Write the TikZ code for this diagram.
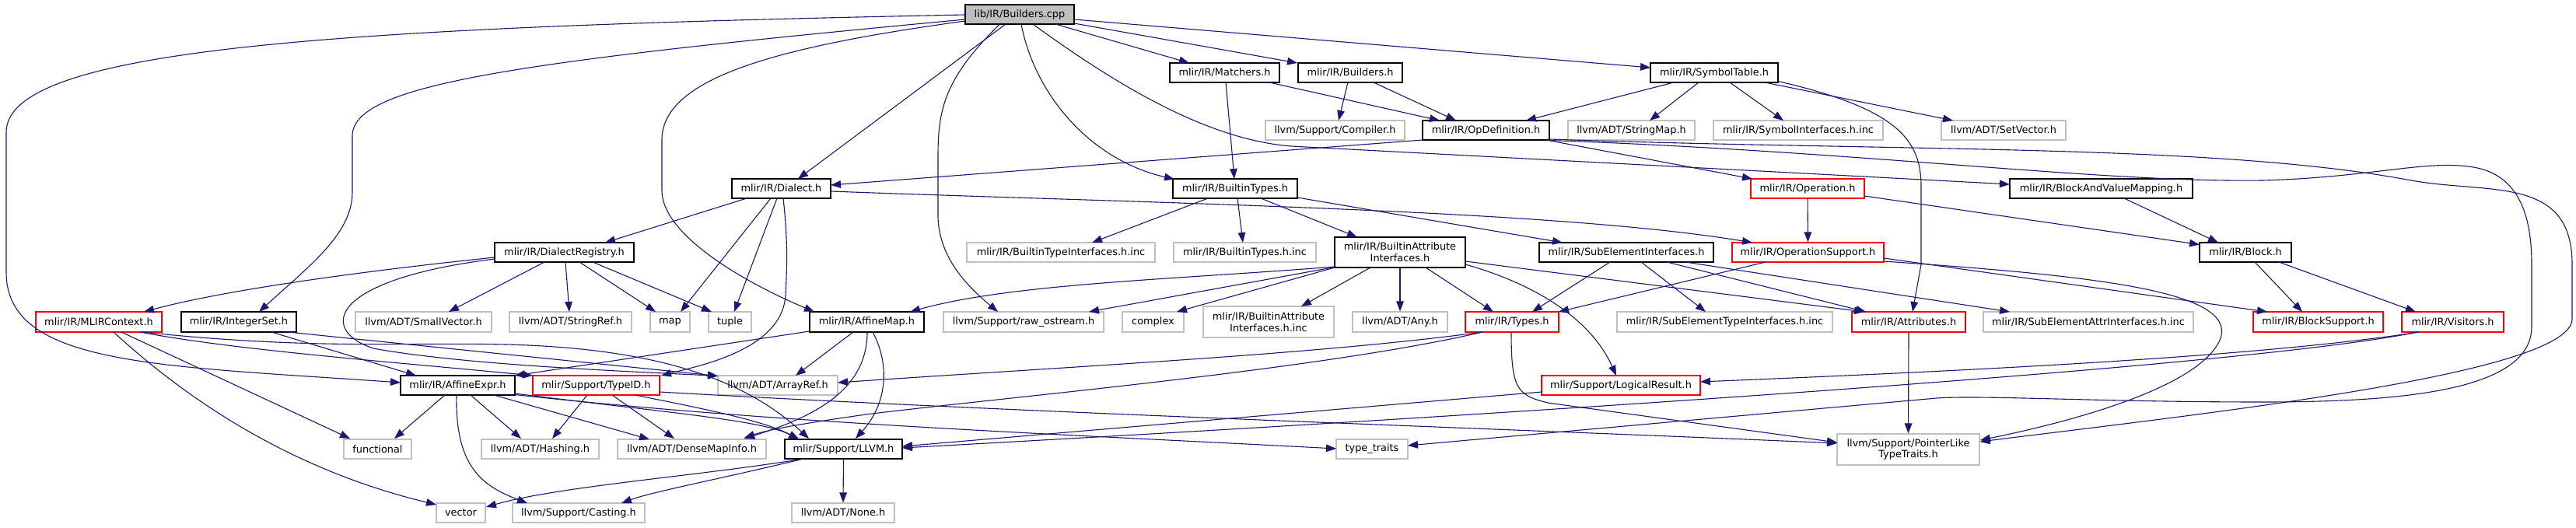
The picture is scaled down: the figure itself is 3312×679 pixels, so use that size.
\documentclass[tikz,border=0pt]{standalone}
\usepackage{fontspec}
\setmainfont{DejaVu Sans}
\usetikzlibrary{arrows.meta,calc}
\definecolor{edgec}{HTML}{191970}
\definecolor{grayb}{HTML}{BFBFBF}
\definecolor{redb}{HTML}{FF0000}
\newcommand{\mknode}[7]{\node[#1, minimum width={(#5-#4)*0.5pt}, minimum height={(#7-#6)*0.5pt}] (#2) at ({(#4+#5)/2},{(#6+#7)/2}) {#3};}
\begin{document}
\begin{tikzpicture}[x=0.5pt,y=-0.5pt,
  box/.style={rectangle, draw, line width=0.6pt, inner sep=0pt, align=center, fill=white,
    font=\fontsize{6.44pt}{7.35pt}\selectfont},
  blkbox/.style={box, draw=black},
  redbox/.style={box, draw=redb},
  graybox/.style={box, draw=grayb},
  rootbox/.style={box, draw=black, fill=grayb},
  ed/.style={draw=edgec, line width=0.55pt, -{Triangle[length=6.5pt,width=4.8pt]}}]
\fill[white] (0,0) rectangle (3312,679);
\useasboundingbox (0,0) rectangle (3312,679);
% row 0
\mknode{rootbox}{root}{lib/IR/Builders.cpp}{1241}{1381}{6}{31}
% row 1
\mknode{blkbox}{matchers}{mlir/IR/Matchers.h}{1504}{1645}{81}{106}
\mknode{blkbox}{buildersh}{mlir/IR/Builders.h}{1669}{1803}{81}{106}
\mknode{blkbox}{symtab}{mlir/IR/SymbolTable.h}{2122}{2286}{81}{106}
% row 2
\mknode{graybox}{compiler}{llvm/Support/Compiler.h}{1627}{1806}{155}{180}
\mknode{blkbox}{opdef}{mlir/IR/OpDefinition.h}{1829}{1992}{155}{180}
\mknode{graybox}{strmap}{llvm/ADT/StringMap.h}{2016}{2179}{155}{180}
\mknode{graybox}{symif}{mlir/IR/SymbolInterfaces.h.inc}{2203}{2421}{155}{180}
\mknode{graybox}{setvec}{llvm/ADT/SetVector.h}{2496}{2656}{155}{180}
% row 3
\mknode{blkbox}{dialect}{mlir/IR/Dialect.h}{941}{1068}{230}{255}
\mknode{blkbox}{btypes}{mlir/IR/BuiltinTypes.h}{1508}{1668}{230}{255}
\mknode{redbox}{operation}{mlir/IR/Operation.h}{2251}{2397}{230}{255}
\mknode{blkbox}{bavm}{mlir/IR/BlockAndValueMapping.h}{2584}{2819}{230}{255}
% row 4
\mknode{blkbox}{dreg}{mlir/IR/DialectRegistry.h}{636}{815}{312}{337}
\mknode{graybox}{btiinc}{mlir/IR/BuiltinTypeInterfaces.h.inc}{1243}{1485}{312}{337}
\mknode{graybox}{btinc}{mlir/IR/BuiltinTypes.h.inc}{1509}{1692}{312}{337}
\mknode{blkbox}{bai}{mlir/IR/BuiltinAttribute\\Interfaces.h}{1716}{1884}{305}{344}
\mknode{blkbox}{subel}{mlir/IR/SubElementInterfaces.h}{1979}{2203}{312}{337}
\mknode{redbox}{opsupp}{mlir/IR/OperationSupport.h}{2227}{2422}{312}{337}
\mknode{blkbox}{block}{mlir/IR/Block.h}{2828}{2946}{312}{337}
% row 5
\mknode{redbox}{mlirctx}{mlir/IR/MLIRContext.h}{46}{208}{401}{427}
\mknode{blkbox}{intset}{mlir/IR/IntegerSet.h}{233}{381}{401}{427}
\mknode{graybox}{smallvec}{llvm/ADT/SmallVector.h}{457}{632}{401}{427}
\mknode{graybox}{strref}{llvm/ADT/StringRef.h}{655}{812}{401}{427}
\mknode{graybox}{map}{map}{836}{887}{401}{427}
\mknode{graybox}{tuple}{tuple}{911}{966}{401}{427}
\mknode{blkbox}{affmap}{mlir/IR/AffineMap.h}{1041}{1188}{401}{427}
\mknode{graybox}{rawos}{llvm/Support/raw\_ostream.h}{1213}{1419}{401}{427}
\mknode{graybox}{complex}{complex}{1443}{1522}{401}{427}
\mknode{graybox}{baiinc}{mlir/IR/BuiltinAttribute\\Interfaces.h.inc}{1547}{1715}{394}{434}
\mknode{graybox}{any}{llvm/ADT/Any.h}{1739}{1861}{401}{427}
\mknode{redbox}{types}{mlir/IR/Types.h}{1884}{2004}{401}{427}
\mknode{graybox}{subtinc}{mlir/IR/SubElementTypeInterfaces.h.inc}{2079}{2356}{401}{427}
\mknode{redbox}{attrs}{mlir/IR/Attributes.h}{2381}{2527}{401}{427}
\mknode{graybox}{subainc}{mlir/IR/SubElementAttrInterfaces.h.inc}{2550}{2820}{401}{427}
\mknode{redbox}{blocksupp}{mlir/IR/BlockSupport.h}{2897}{3064}{401}{427}
\mknode{redbox}{visitors}{mlir/IR/Visitors.h}{3088}{3219}{401}{427}
% row 6
\mknode{blkbox}{affexpr}{mlir/IR/AffineExpr.h}{515}{662}{483}{508}
\mknode{redbox}{typeid}{mlir/Support/TypeID.h}{685}{848}{483}{508}
\mknode{graybox}{arrayref}{llvm/ADT/ArrayRef.h}{923}{1077}{483}{508}
\mknode{redbox}{logres}{mlir/Support/LogicalResult.h}{1982}{2186}{483}{508}
% row 7
\mknode{graybox}{functional}{functional}{442}{529}{565}{590}
\mknode{graybox}{hashing}{llvm/ADT/Hashing.h}{619}{770}{565}{590}
\mknode{graybox}{densemap}{llvm/ADT/DenseMapInfo.h}{794}{985}{565}{590}
\mknode{blkbox}{llvm}{mlir/Support/LLVM.h}{1009}{1160}{565}{590}
\mknode{graybox}{typetraits}{type\_traits}{1718}{1810}{565}{590}
\mknode{graybox}{ptrlike}{llvm/Support/PointerLike\\TypeTraits.h}{2362}{2545}{558}{598}
% row 8
\mknode{graybox}{vector}{vector}{561}{624}{647}{672}
\mknode{graybox}{casting}{llvm/Support/Casting.h}{659}{829}{647}{672}
\mknode{graybox}{none}{llvm/ADT/None.h}{1018}{1150}{647}{672}

% ---- edges from root
\draw[ed] ($(root)+(-18,12.5)$) -- ($(dialect)+(21.5,-12.5)$);
\draw[ed] ($(root)+(46,12.5)$) -- ($(matchers)+(-45.5,-12.5)$);
\draw[ed] ($(root)+(70,11.5)$) -- ($(buildersh)+(-68,-12.5)$);
\draw[ed] ($(root)+(70,6.5)$) -- ($(symtab)+(-82,-6.5)$);
\draw[ed] ($(root)+(2,12.5)$) .. controls (1330,120) and (1400,205) .. ($(btypes)+(-78,-12)$);
\draw[ed] ($(root)+(17,12.5)$) .. controls (1450,120) and (1560,180) .. (1660,188) -- ($(bavm)+(-117.5,-5.5)$);
\draw[ed] ($(root)+(-70,0.5)$) .. controls (450,35) and (8,60) .. (8,170) -- (8,350) .. controls (8,470) and (200,470) .. ($(affexpr)+(-73.5,-3.5)$);
\draw[ed] ($(root)+(-70,6.5)$) .. controls (650,80) and (453,110) .. (453,175) -- (453,247) .. controls (453,300) and (400,340) .. ($(intset)+(26,-13)$);
\draw[ed] ($(root)+(-70,8.5)$) .. controls (1000,60) and (851,100) .. (851,180) -- (851,245) .. controls (851,300) and (950,360) .. ($(affmap)+(-67.5,-13)$);
\draw[ed] ($(root)+(-26,13)$) .. controls (1215,100) and (1206,140) .. (1206,200) -- (1206,280) .. controls (1208,330) and (1240,365) .. ($(rawos)+(-33,-13)$);
% ---- row 1
\draw[ed] ($(matchers)+(57.5,12.5)$) -- ($(opdef)+(-59.5,-12.5)$);
\draw[ed] ($(matchers)+(1.5,12.5)$) -- ($(btypes)+(-1,-12.5)$);
\draw[ed] ($(buildersh)+(-3,12.5)$) -- ($(compiler)+(4.5,-12.5)$);
\draw[ed] ($(buildersh)+(30,12.5)$) -- ($(opdef)+(-38.5,-12.5)$);
\draw[ed] ($(symtab)+(-52,12.5)$) -- ($(opdef)+(51.5,-12.5)$);
\draw[ed] ($(symtab)+(-20,12.5)$) -- ($(strmap)+(23.5,-12.5)$);
\draw[ed] ($(symtab)+(20,12.5)$) -- ($(symif)+(-19,-12.5)$);
\draw[ed] ($(symtab)+(65,12.5)$) -- ($(setvec)+(-65,-12.5)$);
\draw[ed] ($(symtab)+(82,11)$) .. controls (2440,140) and (2470,180) .. (2470,240) -- (2470,340) -- ($(attrs)+(5,-13)$);
% ---- opdef
\draw[ed] ($(opdef)+(-81.5,12.5)$) -- ($(dialect)+(63.5,-4.5)$);
\draw[ed] ($(opdef)+(77.5,12.5)$) -- ($(operation)+(-71,-12.5)$);
\draw[ed] ($(opdef)+(81.5,11.5)$) .. controls (2450,195) and (2850,185) .. (3100,232) .. controls (3200,250) and (3307,225) .. (3307,340) -- (3307,410) .. controls (3307,480) and (2850,530) .. ($(ptrlike)+(92,-10)$);
\draw[ed] ($(opdef)+(81.5,13)$) .. controls (2400,195) and (2700,235) .. (2909,232) .. controls (3050,228) and (3120,205) .. (3180,215) .. controls (3240,225) and (3255,280) .. (3255,340) -- (3255,420) .. controls (3255,500) and (3100,517) .. (2909,517) .. controls (2700,517) and (2550,508) .. (2490,512) -- ($(typetraits)+(46,-4.5)$);
% ---- dialect
\draw[ed] ($(dialect)+(-44.5,12.5)$) -- ($(dreg)+(52.5,-12.5)$);
\draw[ed] ($(dialect)+(-13.5,12.5)$) -- ($(map)+(13.5,-13)$);
\draw[ed] ($(dialect)+(-5.5,12.5)$) -- ($(tuple)+(5.5,-13)$);
\draw[ed] ($(dialect)+(2.5,12.5)$) .. controls (1013,310) and (1012,340) .. (1010,380) .. controls (1005,450) and (900,470) .. ($(typeid)+(83.5,-12.5)$);
\draw[ed] ($(dialect)+(63.5,3.5)$) .. controls (1500,262) and (2000,270) .. ($(opsupp)+(-71.5,-12.5)$);
% ---- builtin types
\draw[ed] ($(btypes)+(-35,12.5)$) -- ($(btiinc)+(40,-12.5)$);
\draw[ed] ($(btypes)+(3,12.5)$) -- ($(btinc)+(-2.5,-12.5)$);
\draw[ed] ($(btypes)+(33,12.5)$) -- ($(bai)+(-55,-19.5)$);
\draw[ed] ($(btypes)+(80,11.5)$) -- ($(subel)+(-82,-12.5)$);
% ---- operation, bavm
\draw[ed] (operation.south) -- (opsupp.north);
\draw[ed] ($(operation)+(73,9.5)$) -- ($(block)+(-59,-10)$);
\draw[ed] ($(bavm)+(29.5,12.5)$) -- ($(block)+(-35,-12.5)$);
% ---- dialect registry
\draw[ed] ($(dreg)+(-89.5,6.5)$) .. controls (500,345) and (300,370) .. ($(mlirctx)+(58,-13)$);
\draw[ed] ($(dreg)+(-25.5,12.5)$) -- ($(smallvec)+(32.5,-13)$);
\draw[ed] ($(dreg)+(1.5,12.5)$) -- ($(strref)+(-1.5,-13)$);
\draw[ed] ($(dreg)+(19.5,12.5)$) -- ($(map)+(-18.5,-13)$);
\draw[ed] ($(dreg)+(36.5,12.5)$) -- ($(tuple)+(-23.5,-13)$);
\draw[ed] ($(dreg)+(-89.5,8.5)$) .. controls (420,360) and (410,425) .. (480,448) .. controls (600,470) and (820,478) .. ($(arrayref)+(-77,-12)$);
% ---- mlircontext
\draw[ed] ($(mlirctx)+(53,13)$) .. controls (300,450) and (500,465) .. ($(typeid)+(-81.5,-12.5)$);
\draw[ed] ($(mlirctx)+(56,13)$) .. controls (400,450) and (520,440) .. (650,443) .. controls (850,448) and (960,490) .. ($(llvm)+(-44.5,-13.5)$);
\draw[ed] ($(mlirctx)+(29,13)$) -- ($(functional)+(-35.5,-13.5)$);
\draw[ed] ($(mlirctx)+(19,13)$) .. controls (280,550) and (420,615) .. ($(vector)+(-31.5,-10.5)$);
% ---- integer set
\draw[ed] ($(intset)+(42,13)$) -- ($(affexpr)+(-53.5,-12.5)$);
\draw[ed] ($(intset)+(63,13)$) -- ($(arrayref)+(-77,-12)$);
% ---- affine map
\draw[ed] ($(affmap)+(-73.5,12)$) -- ($(affexpr)+(73.5,-12.5)$);
\draw[ed] ($(affmap)+(-17.5,13)$) -- ($(arrayref)+(23,-12.5)$);
\draw[ed] ($(affmap)+(0.5,13)$) .. controls (1115,500) and (1050,535) .. ($(densemap)+(67.5,-13.5)$);
\draw[ed] ($(affmap)+(7.5,13)$) .. controls (1145,470) and (1140,520) .. ($(llvm)+(15.5,-13.5)$);
% ---- affine expr
\draw[ed] ($(affexpr)+(-16.5,12.5)$) -- ($(functional)+(21.5,-13.5)$);
\draw[ed] ($(affexpr)+(-1.5,12.5)$) .. controls (585,600) and (620,625) .. ($(casting)+(-66,-12.5)$);
\draw[ed] ($(affexpr)+(16.5,12.5)$) -- ($(hashing)+(-24.5,-13.5)$);
\draw[ed] ($(affexpr)+(46.5,12.5)$) -- ($(densemap)+(-54.5,-12.5)$);
\draw[ed] ($(affexpr)+(73.5,10.5)$) .. controls (850,530) and (980,540) .. ($(llvm)+(-57.5,-12.5)$);
\draw[ed] ($(affexpr)+(73.5,12)$) .. controls (1000,545) and (1400,560) .. ($(typetraits)+(-46,-0.5)$);
% ---- typeid
\draw[ed] ($(typeid)+(-11.5,12.5)$) -- ($(hashing)+(15.5,-13.5)$);
\draw[ed] ($(typeid)+(20.5,12.5)$) -- ($(densemap)+(-22.5,-13.5)$);
\draw[ed] ($(typeid)+(50.5,12.5)$) .. controls (900,525) and (980,540) .. ($(llvm)+(-57,-12.5)$);
\draw[ed] ($(typeid)+(81.5,8.5)$) .. controls (1300,530) and (1900,550) .. ($(ptrlike)+(-91.5,-8)$);
% ---- llvm
\draw[ed] (llvm.south) -- (none.north);
\draw[ed] ($(llvm)+(-51.5,12.5)$) .. controls (930,615) and (840,632) .. ($(casting)+(55,-12.5)$);
\draw[ed] ($(llvm)+(-51.5,12.5)$) .. controls (900,612) and (720,625) .. ($(vector)+(32.5,-7.5)$);
% ---- logical result, visitors
\draw[ed] ($(logres)+(-102,8.5)$) -- ($(llvm)+(75.5,-3.5)$);
\draw[ed] ($(visitors)+(-43.5,13)$) .. controls (2900,460) and (2500,478) .. ($(logres)+(102,-4.5)$);
\draw[ed] ($(visitors)+(-45,13)$) .. controls (2900,470) and (2000,530) .. ($(llvm)+(75.5,-1.5)$);
% ---- types
\draw[ed] ($(types)+(-38,13)$) .. controls (1700,455) and (1400,470) .. ($(arrayref)+(77,-3.5)$);
\draw[ed] ($(types)+(-38,13)$) .. controls (1700,475) and (1300,510) .. (1113,533) .. controls (1030,545) and (990,552) .. ($(densemap)+(67.5,-14.5)$);
\draw[ed] ($(types)+(-1,13)$) .. controls (1943,500) and (1950,508) .. (1990,518) -- ($(ptrlike)+(-91.5,-9)$);
\draw[ed] (attrs.south) -- (ptrlike.north);
% ---- builtin attribute interfaces
\draw[ed] ($(bai)+(-84,18.5)$) .. controls (1500,360) and (1300,365) .. ($(affmap)+(55.5,-13)$);
\draw[ed] ($(bai)+(-84,19)$) -- ($(rawos)+(84,-13)$);
\draw[ed] ($(bai)+(-84,19.5)$) -- ($(complex)+(30.5,-13)$);
\draw[ed] ($(bai)+(-38,19.5)$) -- ($(baiinc)+(42,-20)$);
\draw[ed] (bai.south) -- (any.north);
\draw[ed] ($(bai)+(33,19.5)$) -- ($(types)+(-24,-13)$);
\draw[ed] ($(bai)+(84,15.5)$) .. controls (1990,370) and (2050,420) .. ($(logres)+(-6,-12.5)$);
\draw[ed] ($(bai)+(84,11.5)$) -- ($(attrs)+(-57,-13)$);
% ---- sub element interfaces
\draw[ed] ($(subel)+(-21,12.5)$) -- ($(types)+(26,-13)$);
\draw[ed] ($(subel)+(19,12.5)$) -- ($(subtinc)+(-24.5,-13)$);
\draw[ed] ($(subel)+(52,12.5)$) -- ($(attrs)+(-55,-13)$);
\draw[ed] ($(subel)+(76,12.5)$) -- ($(subainc)+(-101,-13)$);
% ---- operation support
\draw[ed] ($(opsupp)+(-54.5,12.5)$) -- ($(types)+(60,-13)$);
\draw[ed] ($(opsupp)+(97.5,7.5)$) -- ($(blocksupp)+(-65.5,-13)$);
\draw[ed] ($(opsupp)+(97.5,11.5)$) .. controls (2700,355) and (2875,375) .. (2855,435) .. controls (2830,500) and (2650,545) .. ($(ptrlike)+(92.5,-12)$);
% ---- block
\draw[ed] ($(block)+(12,12.5)$) -- ($(blocksupp)+(-20.5,-13)$);
\draw[ed] ($(block)+(43,12.5)$) -- ($(visitors)+(-47.5,-13)$);
\end{tikzpicture}
\end{document}
